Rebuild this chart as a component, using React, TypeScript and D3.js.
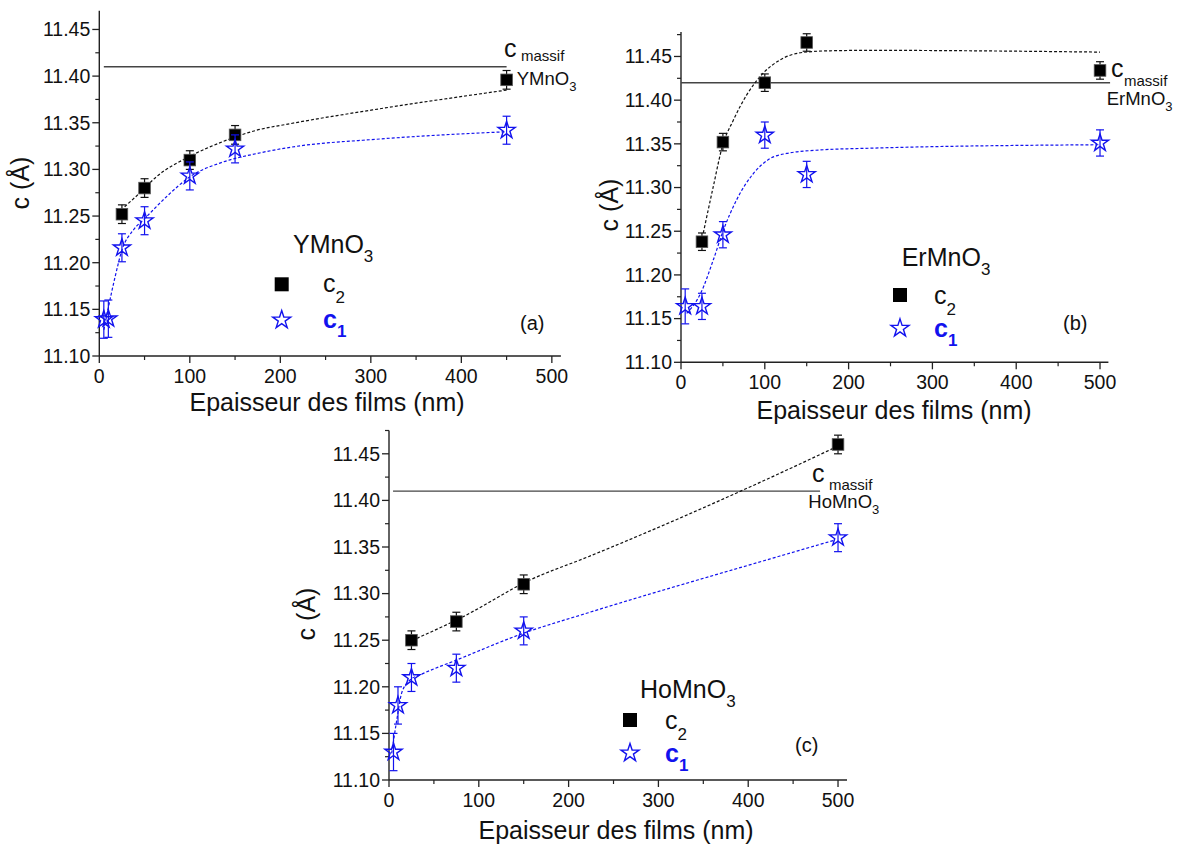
import React from 'react';
import * as d3 from 'd3';

const FONT = '"Liberation Sans", Arial, Helvetica, sans-serif';
const BLUE = '#1212ee';

// ticks
const xMajorTicks = [0, 100, 200, 300, 400, 500];
const xMinorTicks = [50, 150, 250, 350, 450];
const yMajorTicks = [11.10, 11.15, 11.20, 11.25, 11.30, 11.35, 11.40, 11.45];
const yMinorTicks = [11.125, 11.175, 11.225, 11.275, 11.325, 11.375, 11.425, 11.475];

// Panel (a) YMnO3
const aC2X = [25, 50, 100, 150, 450];
const aC2Y = [11.252, 11.280, 11.310, 11.337, 11.396];
const aC2Err = [0.01, 0.01, 0.01, 0.01, 0.01];
const aC1X = [5, 10, 25, 50, 100, 150, 450];
const aC1Y = [11.139, 11.140, 11.216, 11.245, 11.293, 11.322, 11.342];
const aC1Err = [0.02, 0.02, 0.015, 0.015, 0.015, 0.015, 0.015];
const aFitC2X = [28, 45, 63, 100, 137, 174, 211, 310, 450];
const aFitC2Y = [11.260, 11.275, 11.292, 11.314, 11.330, 11.342, 11.349, 11.365, 11.385];
const aFitC1X = [5, 17.5, 25, 37.6, 50.5, 74.5, 100, 137, 174, 211, 310, 450];
const aFitC1Y = [11.128, 11.185, 11.2135, 11.235, 11.2476, 11.271, 11.292, 11.308, 11.317, 11.3237, 11.3326, 11.3404];
const aMassif = 11.41;
const aMassifX = [5, 450];

// Panel (b) ErMnO3
const bC2X = [25, 50, 100, 150, 500];
const bC2Y = [11.238, 11.352, 11.420, 11.466, 11.434];
const bC2Err = [0.01, 0.01, 0.01, 0.01, 0.01];
const bC1X = [5, 25, 50, 100, 150, 500];
const bC1Y = [11.164, 11.164, 11.246, 11.360, 11.315, 11.351];
const bC1Err = [0.02, 0.015, 0.015, 0.015, 0.015, 0.015];
const bFitC2X = [26.6, 38.5, 49.3, 62.4, 78.4, 98.2, 118, 146, 178, 225, 500];
const bFitC2Y = [11.248, 11.301, 11.347, 11.377, 11.406, 11.431, 11.446, 11.4547, 11.4565, 11.457, 11.455];
const bFitC1X = [6.8, 23.5, 38.5, 50.5, 66.4, 86.3, 106, 126, 166, 225, 500];
const bFitC1Y = [11.156, 11.179, 11.217, 11.251, 11.286, 11.316, 11.333, 11.339, 11.343, 11.345, 11.349];
const bMassif = 11.42;
const bMassifX = [0, 512];

// Panel (c) HoMnO3
const cC2X = [25, 75, 150, 500];
const cC2Y = [11.25, 11.27, 11.31, 11.46];
const cC2Err = [0.01, 0.01, 0.01, 0.01];
const cC1X = [5, 10, 25, 75, 150, 500];
const cC1Y = [11.13, 11.18, 11.21, 11.22, 11.26, 11.36];
const cC1Err = [0.02, 0.02, 0.015, 0.015, 0.015, 0.015];
const cFitC2X = [31, 79, 157, 222, 435, 495];
const cFitC2Y = [11.252, 11.2735, 11.3146, 11.3396, 11.429, 11.456];
const cFitC1X = [3, 8.6, 14, 23.4, 34.5, 75.4, 149.6, 222, 435.4, 496.7];
const cFitC1Y = [11.1286, 11.164, 11.193, 11.2073, 11.2127, 11.2288, 11.2574, 11.2795, 11.3403, 11.3575];
const cMassif = 11.41;
const cMassifX = [4.5, 480];

const starPath = d3.symbol(d3.symbolStar, 92)() as string;
const legendStarPath = d3.symbol(d3.symbolStar, 100)() as string;

type PanelProps = {
  xr: [number, number];
  yr: [number, number];
  yTop: number;
  c2x: number[]; c2y: number[]; c2e: number[];
  c1x: number[]; c1y: number[]; c1e: number[];
  f2x: number[]; f2y: number[];
  f1x: number[]; f1y: number[];
  massif: number; massifX: number[];
  compound: string;
  massifLabel: { cx: number; cy: number; mx: number; my: number; fx: number; fy: number };
  legend: { tx: number; ty: number; sqx: number; sqy: number; lx: number; l2y: number; sty: number; l1y: number; px: number; py: number; letter: string };
  xTitle: { x: number; y: number };
  yTitle: { x: number; y: number };
};

function Panel(p: PanelProps) {
  const x = d3.scaleLinear().domain([0, 510]).range(p.xr);
  const y = d3.scaleLinear().domain([11.10, p.yTop]).range(p.yr);
  const line = d3.line<[number, number]>().x(d => x(d[0])).y(d => y(d[1])).curve(d3.curveMonotoneX);
  const f2 = p.f2x.map((v, i) => [v, p.f2y[i]] as [number, number]);
  const f1 = p.f1x.map((v, i) => [v, p.f1y[i]] as [number, number]);
  const x0 = p.xr[0], y0 = p.yr[0];
  const cap = 4;
  return (
    <g fontFamily={FONT}>
      {/* axes */}
      <line x1={x0} x2={x0} y1={y0} y2={p.yr[1]} stroke="#222" strokeWidth={1.4} />
      <line x1={x0} x2={p.xr[1]} y1={y0} y2={y0} stroke="#222" strokeWidth={1.4} />
      {yMajorTicks.map(t => (
        <g key={'ym' + t}>
          <line x1={x0 - 7} x2={x0} y1={y(t)} y2={y(t)} stroke="#222" strokeWidth={1.3} />
          <text x={x0 - 9} y={y(t)} dy="0.35em" textAnchor="end" fontSize={19.5} fill="#111">{t.toFixed(2)}</text>
        </g>
      ))}
      {yMinorTicks.filter(t => t <= p.yTop).map(t => (
        <line key={'yn' + t} x1={x0 - 4} x2={x0} y1={y(t)} y2={y(t)} stroke="#222" strokeWidth={1.2} />
      ))}
      {xMajorTicks.map(t => (
        <g key={'xm' + t}>
          <line x1={x(t)} x2={x(t)} y1={y0} y2={y0 + 7} stroke="#222" strokeWidth={1.3} />
          <text x={x(t)} y={y0 + 27} textAnchor="middle" fontSize={19.5} fill="#111">{t}</text>
        </g>
      ))}
      {xMinorTicks.map(t => (
        <line key={'xn' + t} x1={x(t)} x2={x(t)} y1={y0} y2={y0 + 4} stroke="#222" strokeWidth={1.2} />
      ))}
      <text x={p.xTitle.x} y={p.xTitle.y} textAnchor="middle" fontSize={25} fill="#111">Epaisseur des films (nm)</text>
      <text transform={`translate(${p.yTitle.x},${p.yTitle.y}) rotate(-90)`} textAnchor="middle" dy="0.35em" fontSize={25} fill="#111">c (Å)</text>

      {/* massif line */}
      <line x1={x(p.massifX[0])} x2={x(p.massifX[1])} y1={y(p.massif)} y2={y(p.massif)} stroke="#444" strokeWidth={1.4} />

      {/* fits */}
      <path d={line(f2) as string} fill="none" stroke="#111" strokeWidth={1.2} strokeDasharray="3,2" />
      <path d={line(f1) as string} fill="none" stroke={BLUE} strokeWidth={1.2} strokeDasharray="3,2" />

      {/* c2 error bars & markers */}
      {p.c2x.map((v, i) => {
        const cx = x(v), yt = y(p.c2y[i] + p.c2e[i]), yb = y(p.c2y[i] - p.c2e[i]);
        return (
          <g key={'c2' + i} stroke="#111" strokeWidth={1.2}>
            <line x1={cx} x2={cx} y1={yt} y2={yb} />
            <line x1={cx - cap} x2={cx + cap} y1={yt} y2={yt} />
            <line x1={cx - cap} x2={cx + cap} y1={yb} y2={yb} />
          </g>
        );
      })}
      {p.c2x.map((v, i) => (
        <rect key={'c2r' + i} x={x(v) - 5.8} y={y(p.c2y[i]) - 5.8} width={11.6} height={11.6} fill="#000" stroke="#555" strokeWidth={0.8} />
      ))}
      {p.c1x.map((v, i) => {
        const cx = x(v), yt = y(p.c1y[i] + p.c1e[i]), yb = y(p.c1y[i] - p.c1e[i]);
        return (
          <g key={'c1' + i} stroke={BLUE} strokeWidth={1.2}>
            <line x1={cx} x2={cx} y1={yt} y2={yb} />
            <line x1={cx - cap} x2={cx + cap} y1={yt} y2={yt} />
            <line x1={cx - cap} x2={cx + cap} y1={yb} y2={yb} />
          </g>
        );
      })}
      {p.c1x.map((v, i) => (
        <path key={'c1s' + i} d={starPath} transform={`translate(${x(v)},${y(p.c1y[i])})`} fill="none" stroke={BLUE} strokeWidth={1.4} />
      ))}

      {/* c massif label */}
      <text x={p.massifLabel.cx} y={p.massifLabel.cy} fontSize={25} fill="#111">c</text>
      <text x={p.massifLabel.mx} y={p.massifLabel.my} fontSize={15} fill="#111">massif</text>
      <text x={p.massifLabel.fx} y={p.massifLabel.fy} fontSize={18.5} fill="#111">
        {p.compound}<tspan fontSize={13} dy={6}>3</tspan>
      </text>

      {/* legend */}
      <text x={p.legend.tx} y={p.legend.ty} fontSize={25} fill="#111">
        {p.compound}<tspan fontSize={17} dy={9}>3</tspan>
      </text>
      <rect x={p.legend.sqx - 7} y={p.legend.sqy - 7} width={14} height={14} fill="#000" />
      <text x={p.legend.lx} y={p.legend.l2y} fontSize={25} fill="#111">
        c<tspan fontSize={17} dy={11}>2</tspan>
      </text>
      <path d={legendStarPath} transform={`translate(${p.legend.sqx},${p.legend.sty})`} fill="none" stroke={BLUE} strokeWidth={1.4} />
      <text x={p.legend.lx} y={p.legend.l1y} fontSize={25} fill={BLUE} fontWeight="bold">
        c<tspan fontSize={17} dy={9}>1</tspan>
      </text>
      <text x={p.legend.px} y={p.legend.py} fontSize={20} fill="#111">{p.legend.letter}</text>
    </g>
  );
}

export default function App() {
  return (
    <svg width={1180} height={844} style={{ position: 'absolute', left: 0, top: 0, background: '#fff' }}>
      <rect x={0} y={0} width={1180} height={844} fill="#fff" />
      <Panel
        xr={[99.3, 560.9]} yr={[356, 10.8]} yTop={11.47}
        c2x={aC2X} c2y={aC2Y} c2e={aC2Err}
        c1x={aC1X} c1y={aC1Y} c1e={aC1Err}
        f2x={aFitC2X} f2y={aFitC2Y} f1x={aFitC1X} f1y={aFitC1Y}
        massif={aMassif} massifX={aMassifX}
        compound="YMnO"
        massifLabel={{ cx: 504, cy: 57, mx: 521, my: 61, fx: 516.7, fy: 85 }}
        legend={{ tx: 293, ty: 253, sqx: 281.7, sqy: 284.3, lx: 323, l2y: 292, sty: 320, l1y: 328, px: 520, py: 330, letter: '(a)' }}
        xTitle={{ x: 327, y: 411 }}
        yTitle={{ x: 20, y: 183 }}
      />
      <Panel
        xr={[681, 1108.4]} yr={[362.3, 32]} yTop={11.478}
        c2x={bC2X} c2y={bC2Y} c2e={bC2Err}
        c1x={bC1X} c1y={bC1Y} c1e={bC1Err}
        f2x={bFitC2X} f2y={bFitC2Y} f1x={bFitC1X} f1y={bFitC1Y}
        massif={bMassif} massifX={bMassifX}
        compound="ErMnO"
        massifLabel={{ cx: 1111, cy: 77, mx: 1124, my: 86, fx: 1106.7, fy: 105 }}
        legend={{ tx: 901.7, ty: 266, sqx: 900, sqy: 295, lx: 934, l2y: 304, sty: 328.3, l1y: 337, px: 1063, py: 330, letter: '(b)' }}
        xTitle={{ x: 894, y: 419 }}
        yTitle={{ x: 609, y: 205 }}
      />
      <Panel
        xr={[389, 847]} yr={[780, 430.5]} yTop={11.475}
        c2x={cC2X} c2y={cC2Y} c2e={cC2Err}
        c1x={cC1X} c1y={cC1Y} c1e={cC1Err}
        f2x={cFitC2X} f2y={cFitC2Y} f1x={cFitC1X} f1y={cFitC1Y}
        massif={cMassif} massifX={cMassifX}
        compound="HoMnO"
        massifLabel={{ cx: 812, cy: 482, mx: 829, my: 490, fx: 808.3, fy: 508.3 }}
        legend={{ tx: 640, ty: 698, sqx: 630, sqy: 720, lx: 665, l2y: 729, sty: 753, l1y: 762, px: 795, py: 752, letter: '(c)' }}
        xTitle={{ x: 616, y: 839 }}
        yTitle={{ x: 306, y: 614 }}
      />
    </svg>
  );
}
